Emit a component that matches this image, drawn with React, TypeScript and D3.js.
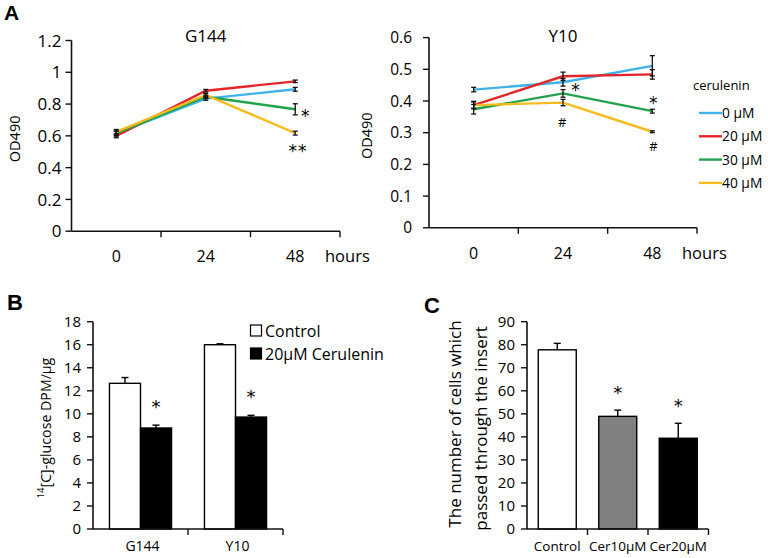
import React from "react";
import * as d3 from "d3";

// ---------- Data ----------
const hourCats = ["0", "24", "48"];
const seriesNames = ["0 µM", "20 µM", "30 µM", "40 µM"];
const g144Values = [
  [0.615, 0.834, 0.893],
  [0.6, 0.884, 0.943],
  [0.615, 0.846, 0.767],
  [0.625, 0.857, 0.617],
];
const g144Errors = [
  [0.015, 0.01, 0.012],
  [0.012, 0.008, 0.008],
  [0.015, 0.01, 0.035],
  [0.015, 0.01, 0.012],
];
const y10Values = [
  [0.436, 0.459, 0.511],
  [0.387, 0.478, 0.484],
  [0.374, 0.424, 0.368],
  [0.387, 0.395, 0.303],
];
const y10Errors = [
  [0.007, 0.012, 0.032],
  [0.012, 0.013, 0.015],
  [0.015, 0.012, 0.006],
  [0.01, 0.01, 0.003],
];
// annotations: [series index, hour index, text, dx, dy(center offset from point)]
const g144Marks: [number, number, string, number, number][] = [
  [2, 2, "*", 10, 3.5],
  [3, 2, "**", 2.8, 15],
];
const y10Marks: [number, number, string, number, number][] = [
  [2, 1, "*", 12.5, -6],
  [3, 1, "#", -0.8, 20.2],
  [2, 2, "*", 1, -10.8],
  [3, 2, "#", 1, 15],
];

const cellLines = ["G144", "Y10"];
const glucoseGroups = ["Control", "20µM Cerulenin"];
const glucoseValues = [
  [12.65, 8.77],
  [16.0, 9.72],
];
const glucoseErrors = [
  [0.5, 0.25],
  [0.08, 0.15],
];
const glucoseStars = [false, true];

const invasionCats = ["Control", "Cer10µM", "Cer20µM"];
const invasionValues = [77.8, 48.9, 39.4];
const invasionErrors = [2.8, 2.7, 6.5];
const invasionStars = [false, true, true];

// ---------- Styles ----------
const FONT = "'Open Sans', Lato, sans-serif";
const STARFONT = "'DejaVu Sans', sans-serif";
const BOLDFONT = "'Liberation Sans', Arial, sans-serif";
const lineColors = ["#3fb3e8", "#e4262b", "#22a24c", "#f8ba1d"];
const invasionFills = ["#ffffff", "#808080", "#000000"];
const glucoseFills = ["#ffffff", "#000000"];

type LineProps = {
  values: number[][];
  errors: number[][];
  marks: [number, number, string, number, number][];
  xRange: [number, number];
  yRange: [number, number];
  yMax: number;
  yStep: number;
  title: string;
  ylabelX: number;
  tickSize: number;
  labelGap: number;
  legend?: boolean;
};

const fmt = (v: number) => d3.format("~g")(+v.toFixed(1));

function Star({ x, y, text, size = 17 }: { x: number; y: number; text: string; size?: number }) {
  // x,y = visual center of glyph
  if (text === "#") {
    return (
      <text x={x} y={y + 4.7} textAnchor="middle" fontSize={13} fontFamily={FONT}>
        #
      </text>
    );
  }
  return (
    <text x={x} y={y + size * 0.52} textAnchor="middle" fontSize={size} fontFamily={STARFONT} letterSpacing={text.length > 1 ? 1 : 0}>
      {text}
    </text>
  );
}

function LinePanel(p: LineProps) {
  const x = d3.scaleBand<string>().domain(hourCats).range(p.xRange);
  const y = d3.scaleLinear().domain([0, p.yMax]).range(p.yRange);
  const ticks = d3.range(0, p.yMax + p.yStep / 2, p.yStep);
  const cx = (i: number) => (x(hourCats[i]) as number) + x.bandwidth() / 2;
  const line = d3
    .line<number>()
    .x((_, i) => cx(i))
    .y((d) => y(d));
  const [x0, x1] = p.xRange;
  const y0 = p.yRange[0];
  const midY = (p.yRange[0] + p.yRange[1]) / 2;
  return (
    <g fontFamily={FONT}>
      <line x1={x0} x2={x0} y1={y0} y2={p.yRange[1]} stroke="#111" strokeWidth={1.6} />
      <line x1={x0} x2={x1} y1={y0} y2={y0} stroke="#111" strokeWidth={1.6} />
      {ticks.map((t) => (
        <g key={t}>
          <line x1={x0 - 6} x2={x0} y1={y(t)} y2={y(t)} stroke="#111" strokeWidth={1.4} />
          <text x={x0 - p.labelGap} y={y(t)} dy="0.36em" textAnchor="end" fontSize={p.tickSize}>
            {fmt(t)}
          </text>
        </g>
      ))}
      {hourCats.map((c, i) => (
        <g key={c}>
          <line
            x1={(x(c) as number) + x.bandwidth()}
            x2={(x(c) as number) + x.bandwidth()}
            y1={y0}
            y2={y0 + 6}
            stroke="#111"
            strokeWidth={1.4}
          />
          <text x={cx(i)} y={y0 + 31} textAnchor="middle" fontSize={16}>
            {c}
          </text>
        </g>
      ))}
      <text x={x1 - 15} y={y0 + 31} fontSize={16.5}>
        hours
      </text>
      <text x={cx(1)} y={42} textAnchor="middle" fontSize={17}>
        {p.title}
      </text>
      <text
        transform={`translate(${p.ylabelX},${midY + 3}) rotate(-90)`}
        textAnchor="middle"
        fontSize={14.5}
      >
        OD490
      </text>
      {p.values.map((vals, s) => (
        <path key={s} d={line(vals) as string} fill="none" stroke={lineColors[s]} strokeWidth={2.4} />
      ))}
      {p.values.map((vals, s) =>
        vals.map((v, i) => {
          const e = p.errors[s][i];
          const a = y(v + e);
          const b = y(v - e);
          return (
            <g key={`${s}-${i}`} stroke="#111" strokeWidth={1.3}>
              <line x1={cx(i)} x2={cx(i)} y1={a} y2={b} />
              <line x1={cx(i) - 2.5} x2={cx(i) + 2.5} y1={a} y2={a} />
              <line x1={cx(i) - 2.5} x2={cx(i) + 2.5} y1={b} y2={b} />
            </g>
          );
        })
      )}
      {p.marks.map(([s, i, t, dx, dy], k) => (
        <Star key={k} x={cx(i) + dx} y={y(p.values[s][i]) + dy} text={t} />
      ))}
      {p.legend && (
        <g>
          <text x={693} y={90} fontSize={13}>
            cerulenin
          </text>
          {seriesNames.map((n, s) => {
            const ly = 113 + s * 23.3;
            return (
              <g key={n}>
                <line x1={699} x2={722} y1={ly} y2={ly} stroke={lineColors[s]} strokeWidth={2.4} />
                <text x={722} y={ly} dy="0.36em" fontSize={13.8}>
                  {n}
                </text>
              </g>
            );
          })}
        </g>
      )}
    </g>
  );
}

function GlucosePanel() {
  const x0 = 93;
  const x1 = 283;
  const yb = 529;
  const yt = 321.7;
  const x = d3.scaleBand<string>().domain(cellLines).range([x0, x1]);
  const xs = d3
    .scaleBand<string>()
    .domain(glucoseGroups)
    .range([0, x.bandwidth()])
    .paddingInner(0)
    .paddingOuter(0.53);
  const y = d3.scaleLinear().domain([0, 18]).range([yb, yt]);
  const ticks = d3.range(0, 19, 2);
  return (
    <g fontFamily={FONT}>
      <text x={7} y={310} fontSize={22} fontWeight="bold" fontFamily={BOLDFONT}>
        B
      </text>
      {cellLines.map((c, ci) =>
        glucoseGroups.map((g, gi) => {
          const bx = (x(c) as number) + (xs(g) as number);
          const v = glucoseValues[ci][gi];
          const e = glucoseErrors[ci][gi];
          const mx = bx + xs.bandwidth() / 2;
          return (
            <g key={`${c}-${g}`}>
              <line x1={mx} x2={mx} y1={y(v)} y2={y(v + e)} stroke="#000" strokeWidth={1.4} />
              <line x1={mx - 3.5} x2={mx + 3.5} y1={y(v + e)} y2={y(v + e)} stroke="#000" strokeWidth={1.4} />
              <rect
                x={bx}
                y={y(v)}
                width={xs.bandwidth()}
                height={yb - y(v)}
                fill={glucoseFills[gi]}
                stroke="#000"
                strokeWidth={1.4}
              />
              {glucoseStars[gi] && <Star x={mx} y={y(v + e) - 21.5} text="*" size={18} />}
            </g>
          );
        })
      )}
      <line x1={x0} x2={x0} y1={yb} y2={yt} stroke="#111" strokeWidth={1.6} />
      <line x1={x0} x2={x1} y1={yb} y2={yb} stroke="#111" strokeWidth={1.6} />
      {ticks.map((t) => (
        <g key={t}>
          <line x1={x0 - 6} x2={x0} y1={y(t)} y2={y(t)} stroke="#111" strokeWidth={1.4} />
          <text x={x0 - 12} y={y(t)} dy="0.36em" textAnchor="end" fontSize={15}>
            {t}
          </text>
        </g>
      ))}
      {cellLines.map((c) => (
        <g key={c}>
          <line
            x1={(x(c) as number) + x.bandwidth()}
            x2={(x(c) as number) + x.bandwidth()}
            y1={yb}
            y2={yb + 6}
            stroke="#111"
            strokeWidth={1.4}
          />
          <text x={(x(c) as number) + x.bandwidth() / 2 + 2} y={yb + 22} textAnchor="middle" fontSize={14}>
            {c}
          </text>
        </g>
      ))}
      <text transform={`translate(${49},${428}) rotate(-90)`} textAnchor="middle" fontSize={14.2}>
        <tspan fontSize={9.5} dy="-0.5em">14</tspan>
        <tspan dy="0.5em">[C]-glucose DPM/µg</tspan>
      </text>
      {glucoseGroups.map((g, gi) => (
        <g key={g}>
          <rect x={250.5} y={325 + gi * 23} width={11} height={11} fill={glucoseFills[gi]} stroke="#000" strokeWidth={1.2} />
          <text x={265} y={331 + gi * 23} dy="0.36em" fontSize={16}>
            {g}
          </text>
        </g>
      ))}
    </g>
  );
}

function InvasionPanel() {
  const x0 = 527;
  const x1 = 708.5;
  const yb = 529;
  const yt = 321.7;
  const x = d3
    .scaleBand<string>()
    .domain(invasionCats)
    .range([x0, x1])
    .paddingInner(0.372)
    .paddingOuter(0.186);
  const step = x.step();
  const y = d3.scaleLinear().domain([0, 90]).range([yb, yt]);
  const ticks = d3.range(0, 91, 10);
  return (
    <g fontFamily={FONT}>
      <text x={424} y={313} fontSize={22} fontWeight="bold" fontFamily={BOLDFONT}>
        C
      </text>
      {invasionCats.map((c, i) => {
        const bx = x(c) as number;
        const v = invasionValues[i];
        const e = invasionErrors[i];
        const mx = bx + x.bandwidth() / 2;
        return (
          <g key={c}>
            <line x1={mx} x2={mx} y1={y(v)} y2={y(v + e)} stroke="#000" strokeWidth={1.4} />
            <line x1={mx - 3.5} x2={mx + 3.5} y1={y(v + e)} y2={y(v + e)} stroke="#000" strokeWidth={1.4} />
            <rect
              x={bx}
              y={y(v)}
              width={x.bandwidth()}
              height={yb - y(v)}
              fill={invasionFills[i]}
              stroke="#000"
              strokeWidth={1.4}
            />
            {invasionStars[i] && <Star x={mx} y={y(v + e) - 20.5} text="*" size={18} />}
            <line
              x1={mx + step / 2}
              x2={mx + step / 2}
              y1={yb}
              y2={yb + 6}
              stroke="#111"
              strokeWidth={1.4}
            />
            <text x={mx} y={yb + 22} textAnchor="middle" fontSize={13.5}>
              {c}
            </text>
          </g>
        );
      })}
      <line x1={x0} x2={x0} y1={yb} y2={yt} stroke="#111" strokeWidth={1.6} />
      <line x1={x0} x2={x1} y1={yb} y2={yb} stroke="#111" strokeWidth={1.6} />
      {ticks.map((t) => (
        <g key={t}>
          <line x1={x0 - 6} x2={x0} y1={y(t)} y2={y(t)} stroke="#111" strokeWidth={1.4} />
          <text x={x0 - 12} y={y(t)} dy="0.36em" textAnchor="end" fontSize={15}>
            {t}
          </text>
        </g>
      ))}
      <text transform={`translate(${461},${424}) rotate(-90)`} textAnchor="middle" fontSize={17}>
        The number of cells which
      </text>
      <text transform={`translate(${487},${428.5}) rotate(-90)`} textAnchor="middle" fontSize={17}>
        passed through the insert
      </text>
    </g>
  );
}

export default function App() {
  return (
    <svg
      width={768}
      height={558}
      viewBox="0 0 768 558"
      style={{ position: "absolute", left: 0, top: 0, background: "#fff" }}
    >
      <rect width={768} height={558} fill="#fff" />
      <text x={4} y={20} fontSize={21} fontWeight="bold" fontFamily={BOLDFONT}>
        A
      </text>
      <LinePanel
        values={g144Values}
        errors={g144Errors}
        marks={g144Marks}
        xRange={[71.5, 340]}
        yRange={[231.2, 40.5]}
        yMax={1.2}
        yStep={0.2}
        title="G144"
        ylabelX={20}
        tickSize={17}
        labelGap={10}
      />
      <LinePanel
        values={y10Values}
        errors={y10Errors}
        marks={y10Marks}
        xRange={[429, 697]}
        yRange={[227.8, 37.6]}
        yMax={0.6}
        yStep={0.1}
        title="Y10"
        ylabelX={372}
        tickSize={15.5}
        labelGap={17}
        legend
      />
      <GlucosePanel />
      <InvasionPanel />
    </svg>
  );
}
